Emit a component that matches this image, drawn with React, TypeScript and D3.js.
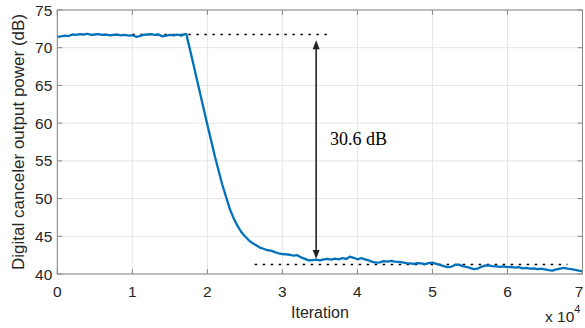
import React from "react";
import * as d3 from "d3";

// iteration (x 10^4) and canceler output power (dB)
const iterations = [
  0, 0.05, 0.1, 0.15, 0.2, 0.25, 0.3, 0.35, 0.4, 0.45, 0.5, 0.55, 0.6, 0.65, 0.7, 0.75, 0.8, 0.85, 0.9, 0.95,
  1.0, 1.05, 1.1, 1.15, 1.2, 1.25, 1.3, 1.35, 1.4, 1.45, 1.5, 1.55, 1.6, 1.65, 1.7, 1.72,
  1.8, 1.9, 2.0, 2.1, 2.2, 2.3, 2.35, 2.4, 2.45, 2.5, 2.55, 2.6, 2.65, 2.7, 2.75, 2.8, 2.85, 2.9, 2.95,
  3.0, 3.05, 3.1, 3.15, 3.2, 3.25, 3.3, 3.35, 3.4, 3.45, 3.5, 3.55, 3.6, 3.65, 3.7, 3.75, 3.8, 3.85, 3.9, 3.95,
  4.0, 4.05, 4.1, 4.15, 4.2, 4.25, 4.3, 4.35, 4.4, 4.45, 4.5, 4.55, 4.6, 4.65, 4.7, 4.75, 4.8, 4.85, 4.9, 4.95,
  5.0, 5.05, 5.1, 5.15, 5.2, 5.25, 5.3, 5.35, 5.4, 5.45, 5.5, 5.55, 5.6, 5.65, 5.7, 5.75, 5.8, 5.85, 5.9, 5.95,
  6.0, 6.05, 6.1, 6.15, 6.2, 6.25, 6.3, 6.35, 6.4, 6.45, 6.5, 6.55, 6.6, 6.65, 6.7, 6.75, 6.8, 6.85, 6.9, 6.95, 7.0
];
const power = [
  71.45, 71.5, 71.6, 71.55, 71.75, 71.7, 71.8, 71.75, 71.85, 71.7, 71.75, 71.8, 71.7, 71.75, 71.65, 71.7, 71.75, 71.65, 71.7, 71.6,
  71.65, 71.45, 71.55, 71.7, 71.75, 71.8, 71.7, 71.75, 71.5, 71.6, 71.7, 71.65, 71.75, 71.6, 71.8, 71.8,
  68.4, 64.1, 59.8, 55.6, 51.8, 48.6, 47.4, 46.4, 45.6, 45.0, 44.5, 44.1, 43.8, 43.5, 43.35, 43.15, 43.1, 42.9, 42.75,
  42.65, 42.6, 42.55, 42.45, 42.5, 42.2, 42.0, 41.8, 41.85, 41.9, 41.8, 41.95, 42.0, 41.9, 42.05, 41.95, 42.1, 42.0, 42.3, 42.15,
  41.95, 42.1, 41.95, 41.8, 41.6, 41.5, 41.55, 41.7, 41.65, 41.75, 41.65, 41.6, 41.55, 41.45, 41.4, 41.35, 41.45, 41.4, 41.3, 41.45,
  41.5, 41.35, 41.2, 41.05, 40.9, 40.95, 41.2, 41.25, 41.05, 40.95, 40.8, 40.65, 40.7, 40.95, 41.1, 41.15, 41.05, 41.0, 40.95, 41.0,
  40.9, 40.95, 40.85, 40.9, 40.75, 40.8, 40.7, 40.75, 40.65, 40.7, 40.6, 40.5, 40.45, 40.6, 40.7, 40.8, 40.7, 40.65, 40.55, 40.45, 40.35
];

const xTicks = [0, 1, 2, 3, 4, 5, 6, 7];
const yTicks = [40, 45, 50, 55, 60, 65, 70, 75];

// annotation: levels before / after convergence
const topLevel = { from: 1.0, to: 3.6, value: 71.75 };
const bottomLevel = { from: 2.63, to: 6.8, value: 41.25 };
const arrow = { at: 3.45, top: 71.0, bottom: 42.0 };
const gapLabel = "30.6 dB";

const W = 585;
const H = 328;

export default function App() {
  const x = d3.scaleLinear().domain([0, 7]).range([57.3, 582.5]);
  const y = d3.scaleLinear().domain([40, 75]).range([274, 10]);
  const [x0, x1] = x.range();
  const [y0, y1] = y.range();

  const line = d3
    .line<number>()
    .x((d, i) => x(iterations[i]))
    .y(d => y(d));

  const sans = "'Liberation Sans', Arial, Helvetica, sans-serif";
  const tickColor = "#262626";
  const axisColor = "#888";
  const ax = x(arrow.at);
  const aTop = y(arrow.top);
  const aBot = y(arrow.bottom);

  return (
    <div style={{ position: "fixed", left: 0, top: 0 }}>
      <svg width={W} height={H} style={{ display: "block", background: "#fff" }}>
        {/* grid */}
        {xTicks.map(t => (
          <line key={"gx" + t} x1={x(t)} x2={x(t)} y1={y0} y2={y1} stroke="#e6e6e6" strokeWidth={1} />
        ))}
        {yTicks.map(t => (
          <line key={"gy" + t} x1={x0} x2={x1} y1={y(t)} y2={y(t)} stroke="#e6e6e6" strokeWidth={1} />
        ))}

        {/* reference levels */}
        <line x1={x(topLevel.from)} x2={x(topLevel.to)} y1={y(topLevel.value)} y2={y(topLevel.value)}
          stroke="#000" strokeWidth={1.5} strokeDasharray="2.5,5.5" />
        <line x1={x(bottomLevel.from)} x2={x(bottomLevel.to)} y1={y(bottomLevel.value)} y2={y(bottomLevel.value)}
          stroke="#000" strokeWidth={1.5} strokeDasharray="2.5,5.5" />

        {/* data */}
        <path d={line(power) || ""} fill="none" stroke="#0072BD" strokeWidth={2.3} strokeLinejoin="round" />

        {/* double arrow */}
        <line x1={ax} x2={ax} y1={aTop + 6} y2={aBot - 6} stroke="#222" strokeWidth={1.6} />
        <path d={`M${ax},${aTop} L${ax - 3.5},${aTop + 9} L${ax + 3.5},${aTop + 9} Z`} fill="#222" />
        <path d={`M${ax},${aBot} L${ax - 3.5},${aBot - 9} L${ax + 3.5},${aBot - 9} Z`} fill="#222" />
        <text x={330} y={145} fontFamily="'Liberation Serif', 'Times New Roman', serif" fontSize={18} fill="#000">
          {gapLabel}
        </text>

        {/* box and ticks */}
        <rect x={x0} y={y1} width={x1 - x0} height={y0 - y1} fill="none" stroke={axisColor} strokeWidth={1} />
        {xTicks.map(t => (
          <g key={"tx" + t}>
            <line x1={x(t)} x2={x(t)} y1={y0} y2={y0 - 5} stroke={axisColor} />
            <line x1={x(t)} x2={x(t)} y1={y1} y2={y1 + 5} stroke={axisColor} />
            <text x={Math.min(x(t), W - 6)} y={y0 + 12} dy="0.71em" textAnchor="middle" fontFamily={sans}
              fontSize={15.5} fill={tickColor}>
              {t}
            </text>
          </g>
        ))}
        {yTicks.map(t => (
          <g key={"ty" + t}>
            <line x1={x0} x2={x0 + 5} y1={y(t)} y2={y(t)} stroke={axisColor} />
            <line x1={x1} x2={x1 - 5} y1={y(t)} y2={y(t)} stroke={axisColor} />
            <text x={x0 - 5} y={y(t)} dy="0.36em" textAnchor="end" fontFamily={sans} fontSize={15.5} fill={tickColor}>
              {t}
            </text>
          </g>
        ))}

        {/* labels */}
        <text x={(x0 + x1) / 2} y={318} textAnchor="middle" fontFamily={sans} fontSize={16} fill={tickColor}>
          Iteration
        </text>
        <text transform={`translate(24,${(y0 + y1) / 2}) rotate(-90)`} textAnchor="middle" fontFamily={sans}
          fontSize={17} fill={tickColor}>
          Digital canceler output power (dB)
        </text>
        <text x={545} y={321.5} fontFamily={sans} fontSize={15.5} fill={tickColor}>
          x 10
          <tspan dy={-9} fontSize={11}>4</tspan>
        </text>
      </svg>
    </div>
  );
}
